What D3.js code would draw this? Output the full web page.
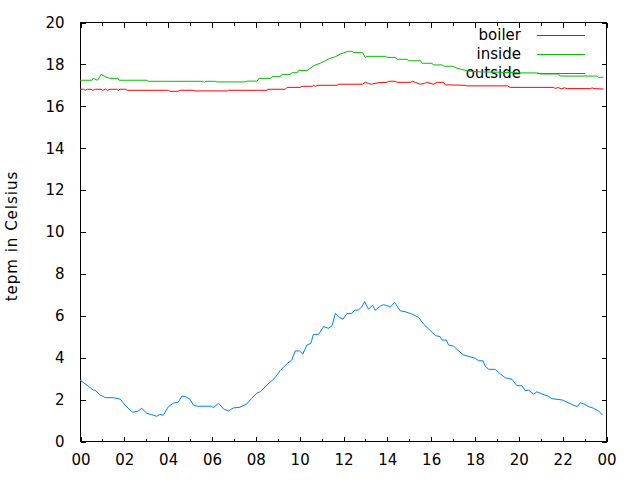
<!DOCTYPE html>
<html><head><meta charset="utf-8">
<script src="https://cdn.jsdelivr.net/npm/d3@7"></script>
<style>
html,body{margin:0;padding:0;background:#fff;}
svg{display:block;font-family:"DejaVu Sans",sans-serif;}
</style></head>
<body><svg id="chart" width="640" height="480"></svg>
<script>
// ---- data ----
const seriesNames = ["boiler", "inside", "outside"];
const seriesColors = ["#ff0000", "#00c000", "#0080ff"];
const yTicks = [0, 2, 4, 6, 8, 10, 12, 14, 16, 18, 20];
const yLabel = "tepm in Celsius";

const boilerTime = ["00:00","00:10","00:14","00:20","00:30","00:35","00:42","00:58","01:02","01:10","01:15","01:22","01:40","01:45","01:50","02:05","02:10","04:02","04:07","04:28","04:34","05:10","05:15","06:43","06:47","08:32","08:35","09:22","09:27","10:03","10:08","10:36","10:40","10:45","10:52","11:44","11:47","12:53","13:01","13:09","13:18","13:36","14:01","14:04","14:23","14:28","15:04","15:10","15:18","15:32","15:43","15:51","16:07","16:18","16:35","16:40","17:35","17:40","19:30","19:38","21:36","21:41","21:49","21:58","22:06","22:14","23:18","23:22","23:27","23:53"];
const boilerTemp = [16.79,16.79,16.74,16.79,16.79,16.74,16.79,16.79,16.74,16.79,16.74,16.79,16.79,16.74,16.79,16.79,16.74,16.74,16.69,16.69,16.74,16.74,16.71,16.71,16.74,16.74,16.79,16.79,16.88,16.88,16.93,16.93,16.98,16.93,16.98,16.98,17.03,17.03,17.12,17.07,17.03,17.10,17.12,17.17,17.17,17.12,17.12,17.17,17.12,17.03,17.07,17.12,17.03,17.12,17.12,17.00,16.98,16.95,16.95,16.88,16.88,16.83,16.87,16.81,16.86,16.82,16.82,16.86,16.82,16.80];

const insideTime = ["00:00","00:33","00:36","00:48","00:58","01:09","01:22","01:44","01:47","03:04","03:06","05:37","05:40","05:45","06:10","06:15","07:32","07:38","08:05","08:10","08:41","08:46","09:08","09:13","09:35","09:41","09:55","09:58","10:22","10:30","10:44","10:58","11:11","11:25","11:39","11:52","12:06","12:14","12:25","12:28","12:53","13:01","13:06","13:56","14:01","14:23","14:28","14:56","14:59","15:32","15:37","16:04","16:07","16:32","16:35","16:59","17:08","17:21","17:48","18:16","19:11","20:05","20:52","21:00","21:50","21:55","23:36","23:39","23:53"];
const insideTemp = [17.22,17.22,17.31,17.22,17.50,17.39,17.31,17.31,17.22,17.22,17.17,17.17,17.12,17.17,17.17,17.14,17.14,17.18,17.18,17.31,17.31,17.39,17.39,17.50,17.50,17.58,17.58,17.69,17.69,17.79,17.95,18.03,18.15,18.27,18.34,18.47,18.55,18.60,18.60,18.55,18.55,18.31,18.36,18.36,18.31,18.31,18.22,18.22,18.15,18.15,18.03,18.03,17.95,17.95,17.89,17.89,17.82,17.75,17.65,17.62,17.60,17.57,17.57,17.52,17.52,17.42,17.42,17.36,17.36];

const outsideTime = ["00:00","00:27","00:36","00:41","00:55","01:09","01:30","01:50","02:03","02:17","02:25","02:39","02:49","03:03","03:16","03:30","03:39","03:48","04:02","04:16","04:29","04:39","04:48","05:01","05:10","05:20","06:01","06:05","06:19","06:33","06:46","07:00","07:18","07:37","07:50","08:04","08:13","08:32","08:54","09:08","09:26","09:40","09:49","10:01","10:10","10:21","10:32","10:39","10:53","11:07","11:20","11:30","11:39","11:48","12:00","12:11","12:24","12:33","12:42","12:52","12:59","13:10","13:21","13:28","13:42","13:51","14:05","14:09","14:21","14:37","14:50","15:09","15:27","15:41","15:59","16:13","16:26","16:31","16:43","16:49","17:03","17:16","17:30","17:48","18:02","18:11","18:23","18:30","18:39","18:57","19:11","19:24","19:43","19:56","20:10","20:19","20:28","20:42","20:51","21:05","21:19","21:32","22:00","22:13","22:32","22:41","22:50","22:59","23:13","23:26","23:40","23:51"];
const outsideTemp = [2.91,2.56,2.43,2.43,2.20,2.07,2.07,2.00,1.72,1.48,1.37,1.43,1.56,1.32,1.26,1.18,1.27,1.23,1.64,1.81,1.85,2.15,2.12,2.00,1.72,1.66,1.66,1.58,1.80,1.53,1.43,1.58,1.61,1.77,2.04,2.28,2.35,2.67,3.02,3.36,3.68,3.87,4.30,4.30,4.15,4.58,4.66,5.09,5.09,5.46,5.38,5.50,6.09,5.93,5.81,6.09,6.09,6.25,6.25,6.41,6.65,6.29,6.49,6.24,6.44,6.51,6.43,6.38,6.62,6.21,6.17,6.06,5.90,5.57,5.27,5.03,4.98,4.82,4.82,4.58,4.53,4.30,4.11,4.02,3.95,3.83,3.83,3.55,3.42,3.42,3.20,3.02,2.94,2.64,2.64,2.40,2.43,2.24,2.35,2.24,2.16,2.02,1.96,1.85,1.70,1.64,1.83,1.77,1.64,1.56,1.43,1.23];

// ---- layout ----
const W = 640, H = 480;
const L = 80, R = 606, T = 22, B = 441;
const parse = d3.utcParse("%H:%M");
const t0 = parse("00:00");
const t1 = d3.utcDay.offset(t0, 1);

const x = d3.scaleUtc().domain([t0, t1]).range([L, R]);
const y = d3.scaleLinear().domain([0, 20]).range([B, T]);

const svg = d3.select("#chart");
svg.append("rect").attr("width", W).attr("height", H).attr("fill", "#fff");

const fontSize = 15;
const majorT = x.ticks(d3.utcHour.every(2));
const minorT = x.ticks(d3.utcHour.every(1)).filter(d => d.getUTCHours() % 2 === 1);
const fmt = d3.utcFormat("%H");

function styleAxis(g) {
  g.select(".domain").remove();
  g.selectAll("line").attr("stroke", "#000").attr("shape-rendering", "crispEdges");
  g.selectAll("text").attr("font-size", fontSize).attr("fill", "#000")
    .attr("font-family", "DejaVu Sans, sans-serif");
}

// bottom axis (major, with labels)
svg.append("g").attr("transform", `translate(0.5,${B + 0.5})`)
  .call(d3.axisBottom(x).tickValues(majorT).tickFormat(fmt).tickSizeInner(-5).tickSizeOuter(0).tickPadding(13))
  .call(styleAxis);
// bottom minor
svg.append("g").attr("transform", `translate(0.5,${B + 0.5})`)
  .call(d3.axisBottom(x).tickValues(minorT).tickFormat("").tickSizeInner(-3).tickSizeOuter(0))
  .call(styleAxis);
// top mirror
svg.append("g").attr("transform", `translate(0.5,${T + 0.5})`)
  .call(d3.axisTop(x).tickValues(majorT).tickFormat("").tickSizeInner(-5).tickSizeOuter(0))
  .call(styleAxis);
svg.append("g").attr("transform", `translate(0.5,${T + 0.5})`)
  .call(d3.axisTop(x).tickValues(minorT).tickFormat("").tickSizeInner(-3).tickSizeOuter(0))
  .call(styleAxis);
// left axis
svg.append("g").attr("transform", `translate(${L + 0.5},0.5)`)
  .call(d3.axisLeft(y).tickValues(yTicks).tickFormat(d3.format("d")).tickSizeInner(-5).tickSizeOuter(0).tickPadding(16))
  .call(styleAxis);
// right mirror
svg.append("g").attr("transform", `translate(${R + 0.5},0.5)`)
  .call(d3.axisRight(y).tickValues(yTicks).tickFormat("").tickSizeInner(-5).tickSizeOuter(0))
  .call(styleAxis);

// border
svg.append("rect").attr("x", L + 0.5).attr("y", T + 0.5).attr("width", R - L).attr("height", B - T)
  .attr("fill", "none").attr("stroke", "#000").attr("stroke-width", 1);

// y label
svg.append("text")
  .attr("transform", `translate(17,236) rotate(-90)`)
  .attr("text-anchor", "middle")
  .attr("font-size", fontSize)
  .attr("letter-spacing", "1px")
  .attr("fill", "#000")
  .text(yLabel);

// series
const series = [
  { name: seriesNames[0], color: seriesColors[0], data: boilerTime.map((t, i) => ({ t: parse(t), v: boilerTemp[i] })) },
  { name: seriesNames[1], color: seriesColors[1], data: insideTime.map((t, i) => ({ t: parse(t), v: insideTemp[i] })) },
  { name: seriesNames[2], color: seriesColors[2], data: outsideTime.map((t, i) => ({ t: parse(t), v: outsideTemp[i] })) }
];

const line = d3.line().x(d => x(d.t)).y(d => y(d.v));
const keyY = [35, 54, 73];

series.forEach((s, i) => {
  // key text + sample
  svg.append("text").attr("x", 521).attr("y", keyY[i]).attr("dy", "0.35em")
    .attr("text-anchor", "end").attr("font-size", fontSize).attr("fill", "#000").text(s.name);
  svg.append("line").attr("x1", 537).attr("x2", 585).attr("y1", keyY[i] + 0.5).attr("y2", keyY[i] + 0.5)
    .attr("stroke", s.color).attr("stroke-width", 1).attr("shape-rendering", "crispEdges");
});
series.forEach(s => {
  svg.append("path").datum(s.data).attr("d", line)
    .attr("fill", "none").attr("stroke", s.color).attr("stroke-width", 1);
});
</script>
</body></html>
